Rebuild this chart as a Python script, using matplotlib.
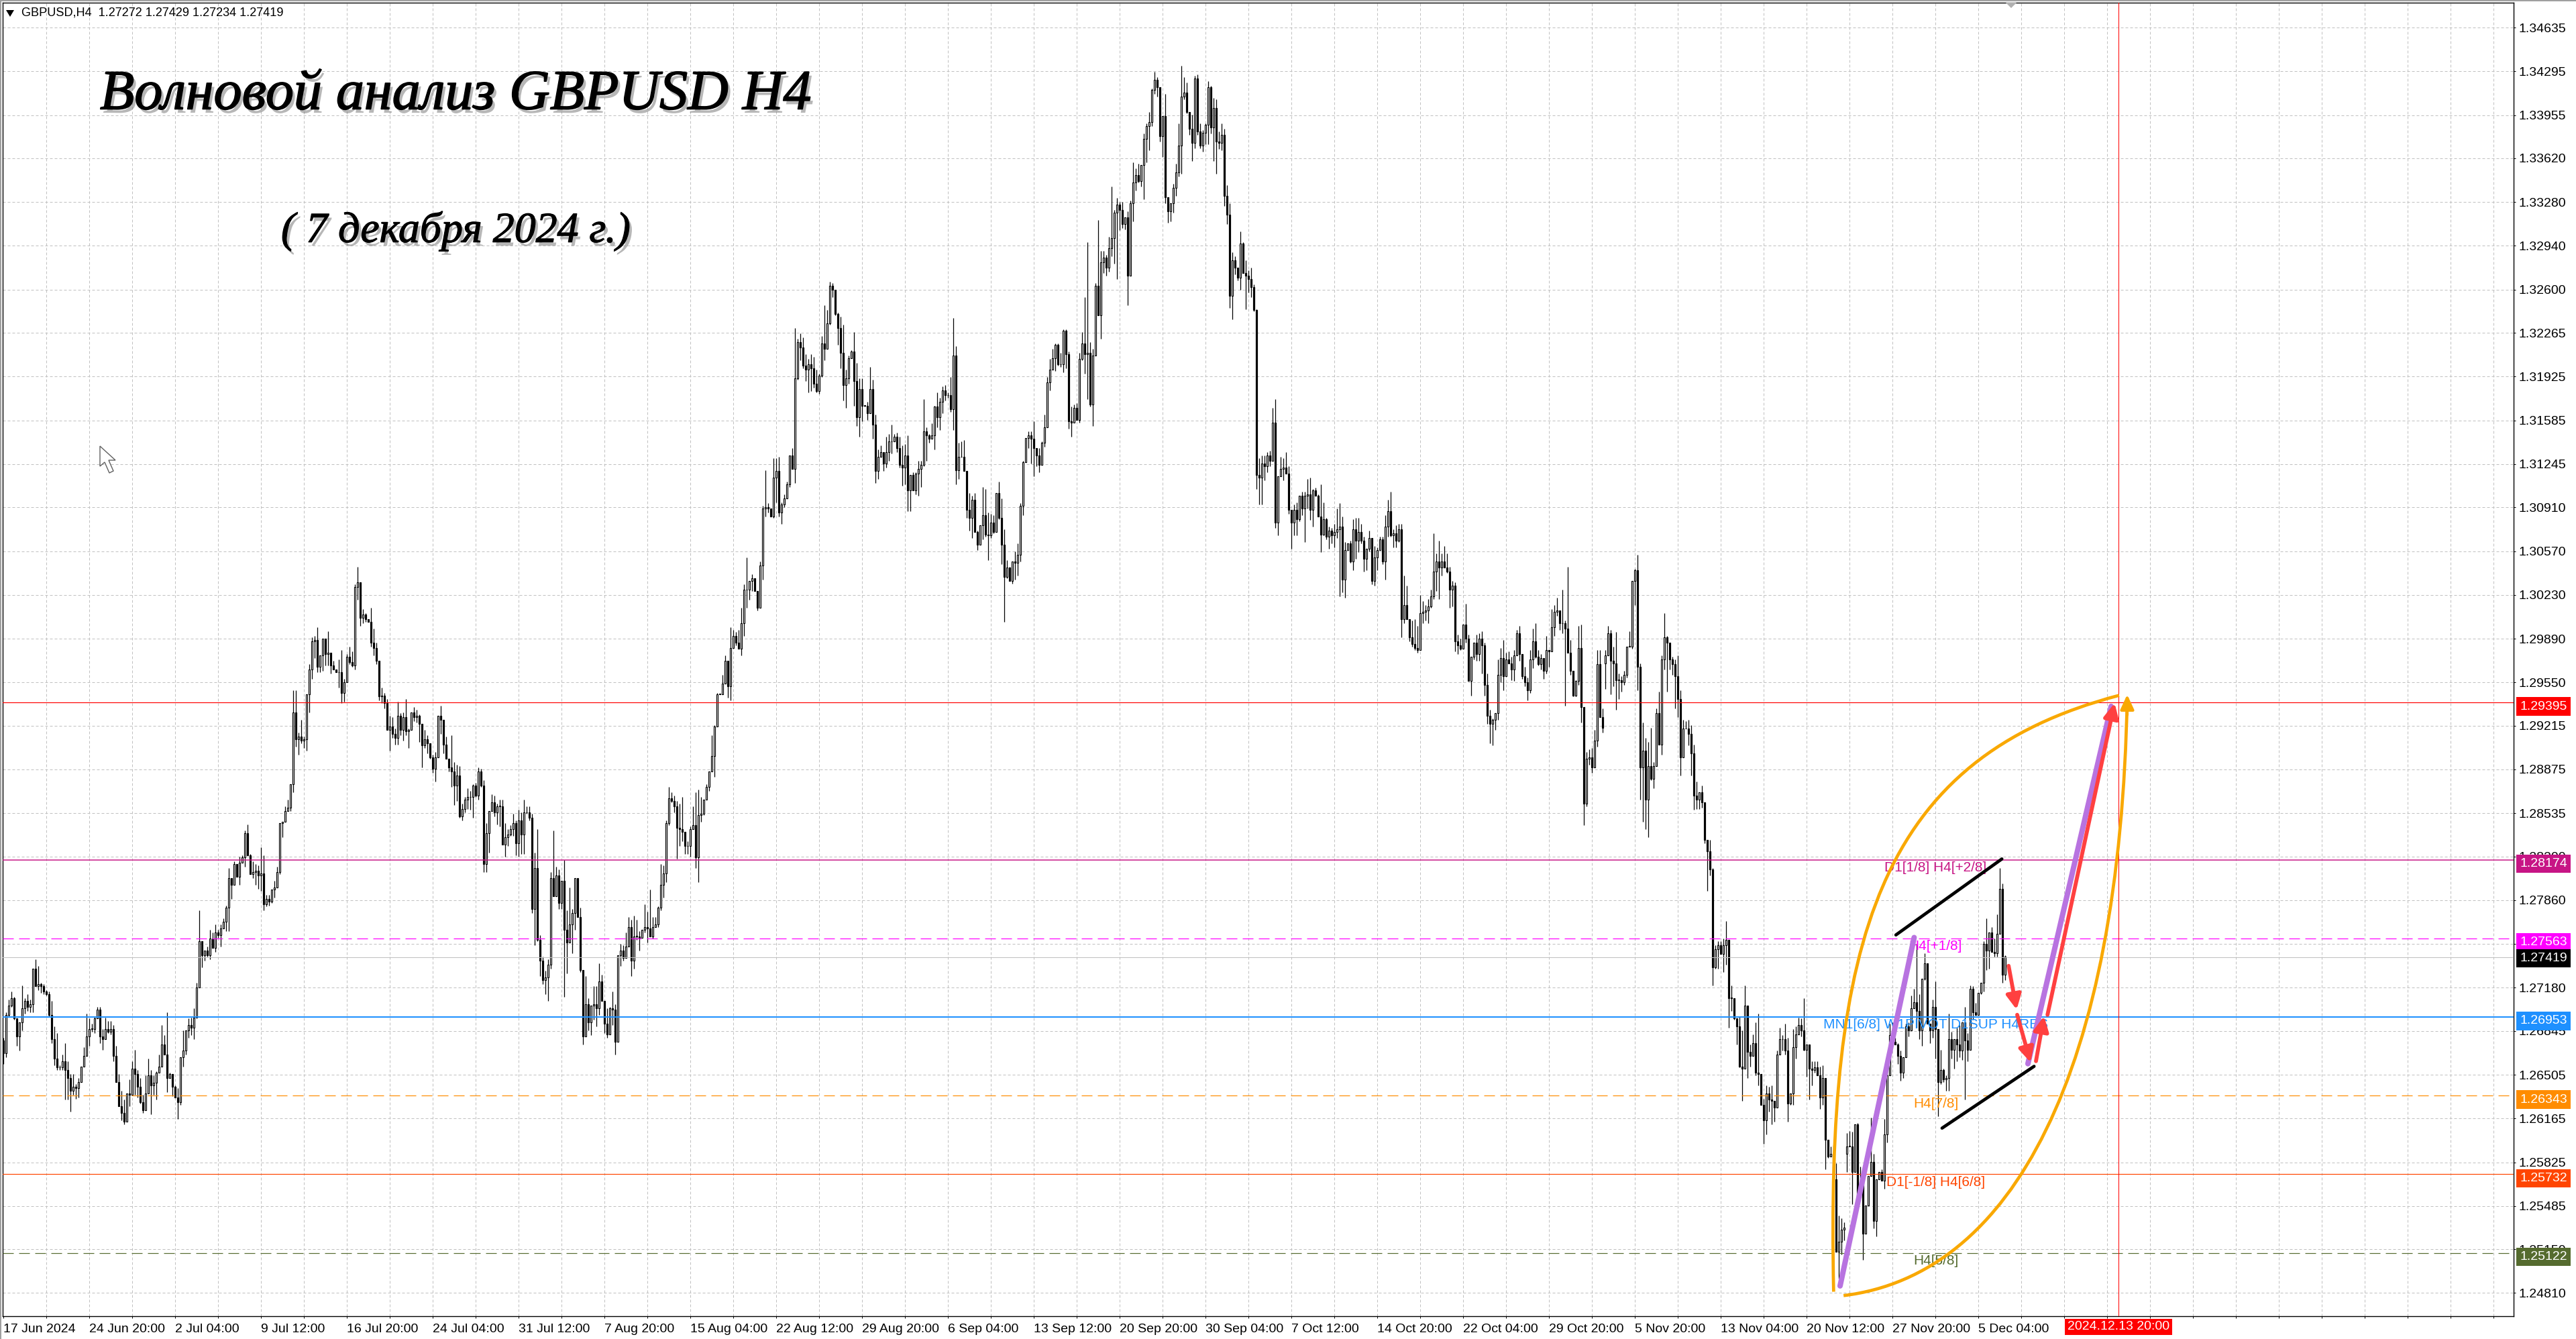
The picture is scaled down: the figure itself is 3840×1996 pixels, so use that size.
import numpy as np
import matplotlib
matplotlib.use('Agg')
import matplotlib.pyplot as plt
import matplotlib.patheffects as pe
from matplotlib.patches import PathPatch, Polygon, Rectangle
from matplotlib.path import Path
from matplotlib.transforms import IdentityTransform, blended_transform_factory

plt.rcParams['font.family'] = ['Liberation Sans', 'DejaVu Sans']

W, H = 3840, 1996

# closes in pips above 1.2000, wicks in pips above / below the body
first_open = 677
close_a = [667,697,704,710,694,680,691,702,708,703,
705,733,719,721,719,715,713,697,678,663,
656,656,661,654,648,638,641,640,645,657,
665,680,686,686,694,701,680,678,686,684,
686,665,645,626,621,614,636,635,655,651,
641,629,623,636,650,642,644,652,657,674,
666,648,651,641,633,629,664,669,685,689,
687,695,718,754,743,747,743,756,749,761,
759,764,769,780,803,798,814,804,815,819,
838,821,806,808,809,805,807,783,787,785,
794,796,808,846,847,855,858]
up_a = [2,2,5,5,1,0,0,18,2,5,
4,0,7,14,1,2,1,2,11,10,
20,2,5,14,7,3,10,2,3,0,
7,18,8,4,2,2,2,6,9,6,
6,3,8,6,12,10,0,11,6,15,
3,7,6,14,13,4,6,1,9,15,
7,33,1,0,1,7,0,16,0,5,
6,7,4,24,0,0,3,7,5,6,
2,3,3,2,8,0,2,0,5,2,
2,7,1,8,5,4,20,14,3,3,
0,5,4,0,0,4,6]
dn_a = [8,3,1,1,1,7,11,6,4,3,
4,6,0,3,5,2,1,1,3,5,
2,2,2,23,17,16,3,8,7,0,
0,0,7,2,3,0,5,8,0,1,
2,4,0,0,6,2,0,9,0,16,
8,1,2,0,0,22,7,13,0,0,
0,11,0,7,0,13,2,7,3,6,
6,9,0,0,9,4,1,3,0,3,
2,9,0,7,18,11,0,0,6,0,
7,0,0,3,10,10,12,5,2,3,
1,6,0,2,11,0,0]

close_b = [876,932,911,913,910,911,946,965,987,988,
967,976,989,977,978,968,965,963,963,947,
955,975,971,968,1029,1033,1005,1008,1004,1002,
986,982,972,944,945,939,918,921,915,912,
929,918,928,917,918,932,928,929,923,906,
911,908,897,888,897,929,926,907,896,889,
886,875,883,851,857,864,866,866,875,867,
886,875,814,838,855,862,854,859,859,829,
835,837,841,846,830,848,837,854,854,850,
779,811,755,739,724,726,736,803,789,805,
784,801,763,753,767,776,803]
up_b = [0,17,17,3,13,2,0,4,3,3,
10,0,0,0,17,0,4,0,10,17,
3,2,8,8,2,12,0,4,1,0,
11,11,4,0,6,2,3,8,7,4,
11,2,4,14,1,0,4,5,1,0,
7,3,0,2,4,0,8,0,6,0,
25,7,8,7,4,2,7,5,1,2,
3,2,4,8,0,6,5,2,5,5,
11,4,3,7,2,8,6,10,5,5,
3,12,30,4,3,5,4,5,37,7,
5,0,16,15,29,3,0]
dn_b = [3,6,6,12,2,6,9,14,7,13,
4,4,12,9,9,6,0,0,12,8,
7,0,2,1,3,10,6,4,2,0,
3,6,3,3,5,4,0,16,3,5,
5,4,8,3,13,0,3,4,14,17,
2,8,1,3,10,0,11,7,0,3,
12,15,12,1,3,3,7,10,16,1,
3,1,6,6,15,0,3,9,16,0,
9,7,1,5,9,10,15,15,1,2,
3,28,1,12,3,11,18,3,0,0,
5,5,52,24,0,22,13]

close_c = [773,732,680,705,691,704,705,702,723,708,
690,682,702,701,676,743,747,741,750,765,
739,758,758,757,763,765,764,758,765,767,
780,798,807,846,865,863,859,842,841,839,
828,828,841,844,819,852,853,864,874,886,
898,921,946,946,954,972,952,982,991,986,
981,1001,1027,1027,1034,1036,1026,1013,1046,1090,
1091,1090,1084,1114,1119,1087,1093,1098,1109,1131,
1121,1191,1219,1215,1201,1198,1202,1199,1187,1181,
1193,1218,1214,1234,1263,1260,1241,1230,1211,1186,
1191,1207,1212,1189,1161,1183,1170,1170]
up_c = [0,7,0,22,5,0,14,14,14,5,
0,12,1,13,4,0,5,4,11,8,
6,16,13,4,0,18,12,30,8,6,
1,16,6,2,9,5,4,4,19,25,
0,4,2,15,26,20,13,0,2,0,
16,1,1,0,7,4,0,16,5,3,
10,12,4,25,0,3,0,0,3,2,
29,3,0,15,10,11,2,3,2,0,
6,39,3,7,8,9,4,8,9,11,
2,6,30,10,3,2,0,1,9,22,
7,2,1,15,14,8,8,0]
dn_c = [0,2,6,0,6,10,11,14,5,0,
7,3,0,12,10,0,8,2,0,0,
12,6,3,10,0,2,11,0,2,0,
2,2,10,7,2,1,5,24,13,7,
6,6,8,0,8,19,5,1,0,3,
0,16,0,0,0,0,9,11,0,2,
0,5,10,14,8,8,0,2,0,11,
6,3,0,1,19,3,9,2,0,2,
0,11,1,10,2,9,18,18,3,1,
2,1,9,0,1,6,1,13,12,12,
18,4,0,19,7,15,12,1]

close_d = [1164,1183,1155,1119,1130,1134,1125,1134,1142,1142,
1146,1137,1124,1122,1131,1104,1116,1104,1117,1121,
1124,1150,1147,1144,1147,1169,1161,1173,1182,1178,
1178,1167,1209,1120,1130,1130,1119,1089,1083,1097,
1072,1062,1077,1085,1070,1069,1079,1072,1102,1083,
1062,1037,1044,1034,1049,1048,1054,1092,1126,1145,
1147,1144,1137,1131,1124,1141,1153,1188,1198,1207,
1217,1202,1202,1228,1210,1158,1157,1168,1159,1206,
1218,1210,1211,1171,1209,1263,1240,1281,1285,1277,
1292,1300,1320,1326,1322,1311,1316,1271,1327,1343,
1349,1344,1357,1377,1387,1390,1415]
up_d = [3,17,7,8,6,5,0,12,6,13,
2,3,9,15,9,16,0,2,1,6,
3,25,3,1,9,1,11,3,3,4,
2,14,29,7,11,12,13,0,13,3,
5,1,0,22,20,17,7,6,0,9,
15,12,6,1,0,8,9,2,1,0,
3,3,14,0,6,1,10,4,8,7,
1,1,9,1,1,2,11,3,4,5,
9,36,86,8,5,2,51,9,5,2,
9,40,2,5,2,6,0,5,2,16,
5,9,0,4,2,8,1]
dn_d = [5,0,11,9,6,0,6,3,7,9,
0,3,2,14,13,16,16,0,3,17,
14,1,20,3,0,11,8,10,9,4,
2,2,16,11,7,0,0,6,10,16,
0,4,0,11,2,19,2,1,0,1,
15,35,1,0,2,13,10,5,7,0,
8,19,22,8,6,0,3,0,6,0,
10,1,2,6,11,6,11,0,0,2,
1,15,35,2,17,0,0,18,8,6,
3,6,20,52,16,3,4,23,0,14,
6,1,4,27,18,19,3]

close_e = [1423,1417,1379,1395,1332,1321,1327,1339,1351,1372,
1410,1413,1398,1385,1374,1424,1383,1372,1382,1388,
1417,1386,1401,1375,1374,1380,1333,1318,1255,1283,
1277,1269,1296,1273,1271,1268,1262,1244,1116,1114,
1125,1123,1131,1127,1157,1079,1115,1121,1122,1117,
1089,1079,1089,1082,1100,1090,1100,1101,1089,1104,
1100,1084,1070,1082,1068,1073,1069,1072,1074,1076,
1035,1058,1063,1049,1074,1065,1072,1065,1051,1059,
1067,1034,1052,1058,1066,1049,1076,1088,1069,1071,
1065,1074,1004,1015,1004,990,985,982,980,1009,
1010,1011,1014,1022,1041,1049,1044,1049]
up_e = [6,2,0,0,17,0,0,3,7,17,
24,12,8,0,11,2,3,6,2,1,
5,1,8,7,8,9,5,8,9,6,
3,0,9,1,10,4,9,2,1,13,
6,6,3,4,11,18,0,9,7,12,
6,0,4,6,0,3,3,12,13,1,
2,1,25,13,1,3,2,6,16,18,
8,6,0,2,8,9,11,6,3,0,
6,0,9,2,2,2,9,9,15,3,
6,4,4,23,15,0,13,19,17,14,
8,4,6,5,30,6,16,6]
dn_e = [3,7,4,16,5,9,8,7,6,3,
22,2,1,5,14,4,3,2,5,9,
15,5,26,25,5,6,8,7,9,18,
5,2,9,0,26,10,8,1,11,21,
21,11,5,4,0,4,10,0,9,0,
3,20,10,13,2,5,26,10,8,13,
0,0,14,1,2,9,6,9,5,52,
10,14,0,1,7,14,9,2,10,9,
2,3,4,10,0,2,14,8,1,9,
5,1,14,3,0,3,2,2,2,0,
8,7,10,1,2,15,24,6]

close_f = [1044,1041,1027,1030,987,984,981,1000,989,956,
975,986,977,989,984,953,929,923,926,931,
961,974,960,973,970,965,976,993,977,960,
955,949,973,987,975,969,974,964,980,979,
998,1010,1011,1001,1001,997,978,964,945,956,
982,936,861,896,897,889,910,969,928,920,
976,993,972,970,957,957,955,961,983,983,
1034,1042,967,889,902,864,890,880,890,931,
907,973,990,986,973,969,960,942,897,919,
919,915,900,867,864,870,862,833,824,810,
734,748,751,744,751,755,710]
up_f = [12,11,4,4,3,5,5,0,16,3,
0,0,6,4,6,2,9,5,1,0,
12,8,14,5,6,5,4,3,6,0,
7,4,7,10,14,5,3,0,11,0,
14,5,10,0,26,2,48,10,0,1,
17,18,0,5,6,7,8,11,11,7,
4,6,3,11,24,5,3,3,0,12,
0,1,12,3,22,10,19,30,3,4,
17,3,19,1,0,2,4,16,7,7,
6,7,7,7,11,0,5,0,0,9,
1,3,3,3,5,15,0]
dn_f = [0,1,14,13,8,7,1,0,3,0,
11,2,5,5,22,8,6,15,17,8,
5,6,11,0,0,8,9,0,5,2,
3,8,2,7,1,1,4,6,2,12,
0,7,3,5,8,60,0,3,1,1,
3,12,17,2,5,4,0,5,0,4,
20,0,26,18,23,15,7,2,2,0,
2,19,18,25,42,23,29,1,7,0,
0,8,8,38,8,8,25,14,14,0,
0,9,17,11,7,7,4,3,31,5,
14,1,15,0,14,15,23]

close_g = [710,694,688,657,655,704,668,665,675,652,
651,627,615,636,631,630,625,666,678,678,
669,628,636,672,682,689,685,670,674,655,
654,656,650,633,648,600,587,589,569,513,
521,530,532,595,595,575,612,555,567,527,
549,572,583,537,569,575,568,604,650,681,
676,674,665,652,664,688,685,702,707,700,
685,725,737,690,685,703,686,645,654,647,
648,678,670,678,674,669,691,677,670,717,
699,697,714,722,752,747,761,746,745,760,
795,728,742]
up_g = [10,0,0,8,28,16,0,6,7,16,
46,0,5,6,5,11,0,3,9,3,
12,10,0,14,6,6,5,25,0,0,
6,5,5,7,10,0,0,6,7,13,
20,9,4,10,12,11,0,1,12,7,
0,0,34,6,0,0,2,12,5,9,
10,3,1,4,0,2,3,10,10,45,
13,0,8,0,0,6,20,0,16,1,
2,20,6,0,9,15,0,12,6,3,
2,7,0,0,2,20,0,4,10,15,
16,4,1]
dn_g = [10,1,14,1,25,0,20,8,0,2,
9,0,18,11,9,18,11,0,0,9,
3,14,1,9,9,0,5,1,21,24,
12,2,0,9,6,23,1,0,2,0,
21,10,8,14,0,25,0,0,0,20,
0,0,0,6,12,0,0,6,6,0,
0,0,6,6,4,0,5,0,0,13,
7,12,1,0,10,6,23,27,2,2,
9,10,7,15,13,5,7,46,9,0,
6,0,0,1,7,15,14,0,3,3,
0,6,4]

# bars where the session opened away from the previous close
gap_bars = [597, 687]
gap_opens = [970, 589]

y_tick_values = [1.34635,1.34295,1.33955,1.33620,1.33280,1.32940,1.32600,1.32265,1.31925,1.31585,
                 1.31245,1.30910,1.30570,1.30230,1.29890,1.29550,1.29215,1.28875,1.28535,1.28200,
                 1.27860,1.27520,1.27180,1.26845,1.26505,1.26165,1.25825,1.25485,1.25150,1.24810]
x_labels = ['17 Jun 2024','24 Jun 20:00','2 Jul 04:00','9 Jul 12:00','16 Jul 20:00','24 Jul 04:00',
            '31 Jul 12:00','7 Aug 20:00','15 Aug 04:00','22 Aug 12:00','29 Aug 20:00','6 Sep 04:00',
            '13 Sep 12:00','20 Sep 20:00','30 Sep 04:00','7 Oct 12:00','14 Oct 20:00','22 Oct 04:00',
            '29 Oct 20:00','5 Nov 20:00','13 Nov 04:00','20 Nov 12:00','27 Nov 20:00','5 Dec 04:00']

level_prices = [1.29395,1.28174,1.27563,1.27419,1.26953,1.26343,1.25732,1.25122]
level_tags = ['1.29395','1.28174','1.27563','1.27419','1.26953','1.26343','1.25732','1.25122']
level_colors = ['#ff0000','#c71585','#ff00ff','#c0c0c0','#1e90ff','#ff8c00','#ff4500','#556b2f']
level_box = ['#ff0000','#c71585','#ff00ff','#000000','#1e90ff','#ff8c00','#ff4500','#556b2f']
level_dashed = [False,False,True,False,False,True,False,True]
level_width = [1.2,1.5,1.2,1,2,1.2,1.2,1.2]

murray_names = ['D1[1/8] H4[+2/8]','H4[+1/8]','MN1[6/8] W1PIVOT D1SUP H4RES','H4[7/8]','D1[-1/8] H4[6/8]','H4[5/8]']
murray_prices = [1.28174,1.27563,1.26953,1.26343,1.25732,1.25122]
murray_colors = ['#c71585','#ff00ff','#1e90ff','#ff8c00','#ff4500','#556b2f']
murray_bar = 720

# hand drawn wave markup (bar number, price)
purple_lines = [((684.4,1.24865),(712.0,1.27570)),((754.4,1.26590),(785.4,1.29365))]
black_lines = [((705.2,1.27590),(744.7,1.28180)),((722.4,1.26090),(756.7,1.26570))]
red_arrows = [((747.2,1.27350),(750.2,1.27010)),((750.4,1.26970),(755.4,1.26600)),
              ((757.4,1.26610),(760.4,1.26960)),((761.7,1.26970),(786.7,1.29390))]
arc_upper = [(682.0,1.24820),(679.2,1.27557),(698.7,1.28960),(788.4,1.29450)]
arc_lower = [(685.7,1.24790),(748.7,1.24950),(788.7,1.26516),(791.4,1.29430)]
future_bar = 788.2
future_tag = '2024.12.13 20:00'

segments = [(close_a,up_a,dn_a,107),(close_b,up_b,dn_b,107),(close_c,up_c,dn_c,108),(close_d,up_d,dn_d,107),
            (close_e,up_e,dn_e,108),(close_f,up_f,dn_f,107),(close_g,up_g,dn_g,103)]
for c, u, d, n in segments:
    assert len(c) == n and len(u) == n and len(d) == n, (len(c), len(u), len(d), n)

close = np.concatenate([s[0] for s in segments]).astype(float)
up = np.concatenate([s[1] for s in segments]).astype(float)
dn = np.concatenate([s[2] for s in segments]).astype(float)
opn = np.concatenate([[first_open], close[:-1]])
opn[gap_bars] = gap_opens
top = np.maximum(opn, close)
bot = np.minimum(opn, close)
high = 1.2 + (top + up) / 10000
low = 1.2 + (bot - dn) / 10000
top = 1.2 + top / 10000
bot = 1.2 + bot / 10000
bars = np.arange(len(close))
rising = close >= opn


def px(x, y):
    return x / W, 1 - y / H


fig = plt.figure(figsize=(W / 100, H / 100), dpi=100, facecolor='white')
ax = fig.add_axes([4 / W, 1 - 1962 / H, 3743 / W, 1958 / H])
ax.set_xlim(-0.33, 935.4)
ax.set_ylim(1.24630, 1.34828)

# grid
ax.set_axisbelow(True)
xt = np.arange(0, 936, 16)
ax.set_xticks(xt)
ax.set_xticklabels([x_labels[i // 32] if i % 32 == 0 and i // 32 < len(x_labels) else '' for i in xt], fontsize=14)
ax.set_yticks(y_tick_values)
ax.set_yticklabels(['%.5f' % v for v in y_tick_values], fontsize=14)
ax.yaxis.tick_right()
ax.tick_params(axis='both', length=2.2, width=0.72, color='black', pad=3.5)
ax.tick_params(axis='x', pad=6)
for lbl in ax.get_xticklabels():
    lbl.set_ha('left')
ax.grid(True, color='#c0c0c0', lw=0.72, linestyle=(0, (4, 3)))
ax.xaxis.get_gridlines()[0].set_visible(False)
for s in ax.spines.values():
    s.set_linewidth(1.0)
    s.set_color('black')

# candles
wicks = ax.vlines(bars, low, high, color='black', lw=0.9, zorder=2.9)
wicks.set_snap(True)
face = ['white' if r else 'black' for r in rising]
ax.bar(bars, np.maximum(top - bot, 0.00002), bottom=bot, width=0.55, color=face,
       edgecolor='black', linewidth=0.85, zorder=3)

# price levels
for p, col, dashed, w in zip(level_prices, level_colors, level_dashed, level_width):
    ls = (0, (16 / w, 8 / w)) if dashed else '-'
    ax.axhline(p, color=col, lw=0.72 * w, linestyle=ls, zorder=4)
ax.axvline(future_bar, color='#ff0000', lw=0.72, zorder=4)

ybox = blended_transform_factory(ax.transAxes, ax.transData)
for p, tag, col in zip(level_prices, level_tags, level_box):
    ax.annotate(tag, xy=(1.0, p), xycoords=ybox, xytext=(9, -2 if col == '#000000' else -6),
                textcoords='offset pixels', ha='left', va='center', color='white', fontsize=14,
                zorder=8, annotation_clip=False,
                bbox=dict(boxstyle='square,pad=0.27', fc=col, ec='none'))

ax.annotate(future_tag, xy=(future_bar, 0), xycoords=('data', 'axes fraction'), xytext=(0, -16),
            textcoords='offset pixels', ha='center', va='center', color='white', fontsize=14,
            annotation_clip=False, bbox=dict(boxstyle='square,pad=0.2', fc='#ff0000', ec='none'))

for name, p, col in zip(murray_names, murray_prices, murray_colors):
    ax.annotate(name, xy=(murray_bar, p), xytext=(0, -12), textcoords='offset pixels', ha='center', va='center',
                color=col, fontsize=15, zorder=5)

# wave markup
for arc in (arc_upper, arc_lower):
    ax.add_patch(PathPatch(Path(arc, [Path.MOVETO, Path.CURVE4, Path.CURVE4, Path.CURVE4]),
                           fc='none', ec='#f9a800', lw=3.4, zorder=5.5))
ax.annotate('', xy=(arc_lower[3][0], 1.29455), xytext=(arc_lower[3][0], 1.29300), zorder=5.6,
            arrowprops=dict(arrowstyle='-|>,head_length=0.6,head_width=0.28', color='#f9a800', lw=3.0,
                            mutation_scale=22, shrinkA=0, shrinkB=0))
for a, b in purple_lines:
    ax.plot([a[0], b[0]], [a[1], b[1]], color='#b873e0', lw=5.8, solid_capstyle='round', zorder=6)
for a, b in black_lines:
    ax.plot([a[0], b[0]], [a[1], b[1]], color='black', lw=3.4, solid_capstyle='round', zorder=6)
for a, b in red_arrows:
    ax.annotate('', xy=b, xytext=a, zorder=7,
                arrowprops=dict(arrowstyle='-|>,head_length=0.6,head_width=0.3', color='#ff4040', lw=4.2,
                                mutation_scale=22, shrinkA=0, shrinkB=0))

# title texts
shadow = pe.SimplePatchShadow(offset=(3, -4), shadow_rgbFace='#707070', alpha=0.5)
x0, y0 = px(149, 142)
fig.text(x0, y0, 'Волновой анализ GBPUSD H4', family='Liberation Serif', style='italic', fontsize=60.5,
         ha='left', va='center', color='black', zorder=9,
         path_effects=[shadow, pe.withStroke(linewidth=1.2, foreground='black')])
x0, y0 = px(419, 345)
fig.text(x0, y0, '( 7 декабря 2024 г.)', family='Liberation Serif', style='italic', fontsize=46,
         ha='left', va='center', color='black', zorder=9,
         path_effects=[shadow, pe.withStroke(linewidth=0.9, foreground='black')])

x0, y0 = px(32, 19)
fig.text(x0, y0, 'GBPUSD,H4  1.27272 1.27429 1.27234 1.27419', fontsize=13.1, ha='left', va='center', color='black')

# window chrome, symbol marker and mouse pointer
fig.add_artist(Rectangle(px(0, 2), 1, 2 / H, transform=fig.transFigure, fc='#a0a0a0', ec='none'))
fig.add_artist(Rectangle(px(0, H), 2 / W, 1, transform=fig.transFigure, fc='#a0a0a0', ec='none'))
fig.add_artist(Polygon([(9, H - 15), (21, H - 15), (15, H - 25)], closed=True, transform=IdentityTransform(),
                       fc='black', ec='none'))
fig.add_artist(Polygon([(2990, H - 4), (3006, H - 4), (2998, H - 12)], closed=True, transform=IdentityTransform(),
                       fc='#b0b0b0', ec='none'))
pointer = [(149, 665), (149, 695), (156, 689), (163, 705), (169, 702), (162, 686), (172, 686)]
fig.add_artist(Polygon([(x, H - y) for x, y in pointer], closed=True, transform=IdentityTransform(),
                       fc='white', ec='#606060', lw=1.0))

fig.savefig('out.png', dpi=100)
